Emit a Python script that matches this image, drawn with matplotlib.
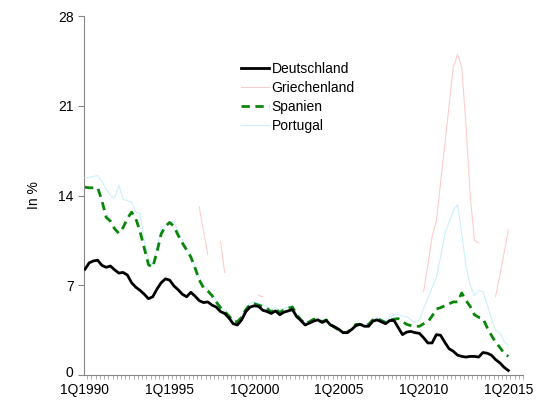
import numpy as np
import matplotlib
matplotlib.use("Agg")
import matplotlib.pyplot as plt
import matplotlib.transforms as mtransforms

# Quarterly yields 1Q1990 .. 1Q2015 (in %)
start_year = 1990
deutschland = [
    8.25, 8.75, 8.9, 8.95, 8.55, 8.4, 8.5, 8.2, 7.95, 8.0,
    7.8, 7.2, 6.85, 6.6, 6.3, 5.95, 6.1, 6.7, 7.2, 7.5,
    7.4, 6.95, 6.65, 6.3, 6.1, 6.45, 6.15, 5.8, 5.65, 5.7,
    5.45, 5.3, 4.95, 4.8, 4.45, 4.0, 3.9, 4.3, 4.95, 5.3,
    5.4, 5.35, 5.05, 4.95, 4.8, 5.0, 4.7, 4.9, 5.0, 5.1,
    4.55, 4.25, 3.9, 4.05, 4.2, 4.3, 4.1, 4.25, 3.9, 3.75,
    3.55, 3.3, 3.3, 3.55, 3.85, 3.95, 3.8, 3.8, 4.2, 4.3,
    4.15, 4.0, 4.25, 4.25, 3.7, 3.15, 3.35, 3.4, 3.3, 3.25,
    2.9, 2.5, 2.5, 3.15, 3.1, 2.55, 2.05, 1.85, 1.55, 1.45,
    1.4, 1.45, 1.45, 1.4, 1.75, 1.7, 1.55, 1.2, 0.95, 0.6,
    0.35,
]
griechenland = [
    None, None, None, None, None, None, None, None, None, None,
    None, None, None, None, None, None, None, None, None, None,
    None, None, None, None, None, None, None, 13.1, 11.2, 9.4,
    None, None, 10.4, 8.0, None, None, None, None, None, None,
    None, 6.2, 6.1, None, None, None, None, None, None, None,
    None, None, None, None, None, None, None, None, None, None,
    None, None, None, None, None, None, None, None, None, None,
    None, None, None, None, None, None, None, None, None, None,
    6.5, 8.6, 10.8, 12.0, 15.0, 18.0, 21.0, 24.0, 25.0, 24.0,
    19.5, 14.0, 10.5, 10.3, None, None, None, 6.1, 7.8, 9.5,
    11.3,
]
spanien = [
    14.65, 14.6, 14.6, 14.6, 13.6, 12.3, 12.0, 11.4, 11.05, 11.5,
    12.2, 12.7, 12.2, 11.2, 9.9, 8.6, 8.4, 9.6, 11.0, 11.6,
    11.9, 11.6, 10.9, 10.3, 9.75, 9.2, 8.35, 7.4, 6.8, 6.55,
    6.2, 5.7, 5.25, 4.95, 4.6, 4.2, 4.15, 4.5, 5.1, 5.5,
    5.55, 5.45, 5.35, 5.2, 4.9, 5.2, 4.85, 5.1, 5.2, 5.3,
    4.7, 4.3, 4.0, 4.15, 4.35, 4.35, 4.15, 4.3, 3.95, 3.7,
    3.5, 3.3, 3.35, 3.6, 3.95, 3.95, 3.85, 3.95, 4.3, 4.4,
    4.25, 4.1, 4.3, 4.35, 4.4, 4.15, 3.95, 3.85, 3.8, 3.8,
    4.0, 4.15, 4.6, 5.15, 5.25, 5.4, 5.55, 5.7, 5.7, 6.4,
    5.8, 5.35, 4.7, 4.5, 4.4, 3.7, 3.1, 2.55, 2.15, 1.7,
    1.45,
]
portugal = [
    15.4, 15.4, 15.5, 15.55, 15.1, 14.5, 14.0, 13.8, 14.8, 13.7,
    13.6, 13.5, 12.7, 12.6, 10.5, 9.0, 8.6, 9.9, 11.5, 11.7,
    11.9, 12.0, 11.2, 10.5, 9.9, 9.4, 8.5, 7.6, 7.0, 6.7,
    6.3, 5.8, 5.35, 5.0, 4.65, 4.3, 4.25, 4.6, 5.2, 5.6,
    5.7, 5.6, 5.5, 5.3, 5.05, 5.3, 5.0, 5.2, 5.3, 5.4,
    4.8, 4.4, 4.1, 4.2, 4.4, 4.4, 4.2, 4.35, 4.0, 3.75,
    3.55, 3.35, 3.4, 3.65, 4.0, 4.0, 3.9, 4.0, 4.35, 4.5,
    4.35, 4.2, 4.5, 4.7, 4.7, 4.6, 4.55, 4.3, 4.1, 4.3,
    5.2, 6.0, 6.8, 7.6, 9.2, 11.0, 11.9, 12.8, 13.3, 11.0,
    8.5, 7.0, 6.2, 6.6, 6.5, 5.5, 4.4, 3.5, 3.3, 2.6,
    2.3,
]
y_ticks = [0, 7, 14, 21, 28]
label_years = [1990, 1995, 2000, 2005, 2010, 2015]

plt.rcParams['font.family'] = ['Liberation Sans', 'DejaVu Sans']

x = np.arange(len(deutschland))
gr = np.array([np.nan if v is None else v for v in griechenland], dtype=float)

fig = plt.figure(figsize=(5.36, 4.0), dpi=100)
ax = fig.add_axes([0.157, 0.0625, 0.819, 0.8975])

ax.plot(x, deutschland, color='black', lw=2, label='Deutschland', zorder=5)
ax.plot(x, gr, color='#ffcccc', lw=0.8, label='Griechenland', zorder=2)
ax.plot(x, spanien, color='#0a860a', lw=2, dashes=(3, 2), label='Spanien', zorder=4)
ax.plot(x, portugal, color='#ccefff', lw=0.8, label='Portugal', zorder=3)

ax.set_ylim(0, 28)
ax.set_xlim(-0.2, 103.5)
ax.set_yticks(y_ticks)
ax.set_xticks([(yr - start_year) * 4 for yr in label_years])
ax.set_xticklabels([f'1Q{yr}' for yr in label_years])
ax.set_xticks(np.arange(0.5, 104, 1), minor=True)
ax.tick_params(axis='x', which='major', length=0, labelsize=10, pad=5.5)
ax.tick_params(axis='x', which='minor', length=3, color='#a0a0a0', width=0.6)
ax.tick_params(axis='y', length=4, color='#868686', labelsize=10)
# lift the "0" label by a couple of pixels so it clears the first date label
zero_lbl = ax.get_yticklabels()[0]
zero_lbl.set_transform(zero_lbl.get_transform() +
                       mtransforms.ScaledTranslation(0, 2.5 / 72, fig.dpi_scale_trans))

for s in ['top', 'right']:
    ax.spines[s].set_visible(False)
for s in ['left', 'bottom']:
    ax.spines[s].set_color('#868686')
    ax.spines[s].set_linewidth(0.8)

ax.set_ylabel('In %', fontsize=10, labelpad=12)

ax.legend(loc='upper left', bbox_to_anchor=(0.345, 0.887), frameon=False,
          fontsize=10, handlelength=2.0, handletextpad=0.2, labelspacing=0.35,
          borderaxespad=0)

fig.savefig('out.png', dpi=100)
